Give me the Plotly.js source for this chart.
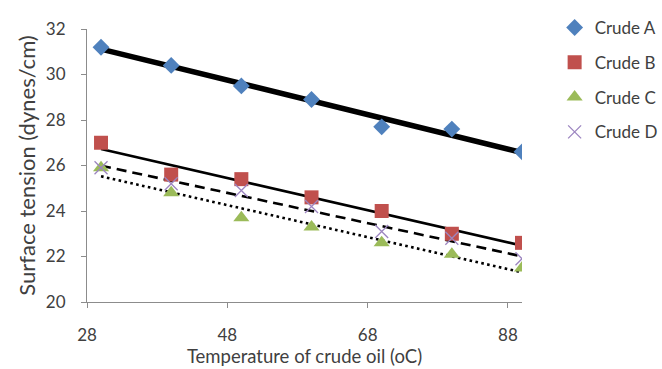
<!DOCTYPE html>
<html>
<head>
<meta charset="utf-8">
<script src="https://cdn.plot.ly/plotly-3.0.1.min.js"></script>
<style>html,body{margin:0;padding:0;background:#fff;}#chart{width:662px;height:369px;}</style>
</head>
<body>
<div id="chart"></div>
<script>
const temperature = [30, 40, 50, 60, 70, 80, 90];
const crudeA = [31.2, 30.4, 29.5, 28.9, 27.7, 27.6, 26.6];
const crudeB = [27.0, 25.6, 25.4, 24.6, 24.0, 23.0, 22.6];
const crudeC = [25.9, 24.8, 23.7, 23.3, 22.6, 22.1, 21.5];
const crudeD = [25.9, 25.2, 24.9, 24.2, 23.1, 22.8, 21.9];
const seriesNames = ["Crude A", "Crude B", "Crude C", "Crude D"];
const xTicks = [28, 48, 68, 88];
const yTicks = [20, 22, 24, 26, 28, 30, 32];

function fit(x, y) {
  const n = x.length;
  const mx = x.reduce((a, b) => a + b, 0) / n;
  const my = y.reduce((a, b) => a + b, 0) / n;
  let sxy = 0, sxx = 0;
  for (let i = 0; i < n; i++) { sxy += (x[i] - mx) * (y[i] - my); sxx += (x[i] - mx) ** 2; }
  const m = sxy / sxx, b = my - m * mx;
  const xs = [Math.min(...x), Math.max(...x)];
  return { x: xs, y: xs.map(v => m * v + b) };
}

const all = [crudeA, crudeB, crudeC, crudeD];
const colors = ["#4F81BD", "#C0504D", "#9BBB59", "#9C85C0"];
const symbols = ["diamond", "square", "triangle-up", "x-thin"];
const sizes = [13, 14, 14, 13];
const lineStyles = [
  { width: 5.5, dash: "solid" },
  { width: 2.6, dash: "solid" },
  { width: 2.6, dash: "2.6px,3.4px" },
  { width: 2.6, dash: "10px,6px" }
];

const traces = [];
all.forEach((ys, i) => {
  const f = fit(temperature, ys);
  traces.push({
    x: f.x, y: f.y, mode: "lines", type: "scatter",
    line: { color: "#000", width: lineStyles[i].width, dash: lineStyles[i].dash },
    showlegend: false, hoverinfo: "skip"
  });
});
all.forEach((ys, i) => {
  traces.push({
    x: temperature, y: ys, mode: "markers", type: "scatter", name: seriesNames[i],
    legendgroup: "g" + i,
    marker: { symbol: symbols[i], size: sizes[i], color: colors[i],
      line: { color: colors[i], width: symbols[i] === "x-thin" ? 1.3 : 0 } }
  });
});

const layout = {
  width: 662, height: 369,
  margin: { l: 87, r: 140, t: 29, b: 67, autoexpand: false },
  paper_bgcolor: "#fff", plot_bgcolor: "#fff",
  font: { family: "Lato, 'Open Sans', sans-serif", color: "#404040", size: 17 },
  showlegend: true,
  legend: { x: 1.075, xanchor: "left", y: 1.07, yanchor: "top", tracegroupgap: 9.7,
    font: { size: 17, color: "#404040" }, bgcolor: "rgba(0,0,0,0)" },
  xaxis: {
    range: [28, 90], tickvals: xTicks, ticktext: xTicks.map(String),
    showgrid: false, zeroline: false, showline: true, linecolor: "#8c8c8c", linewidth: 1,
    ticks: "outside", ticklen: 5, tickcolor: "#8c8c8c", ticklabelstandoff: 13,
    tickfont: { size: 17, color: "#404040" },
    title: { text: "Temperature of crude oil (oC)", font: { size: 18.5, color: "#404040" }, standoff: 4 }
  },
  yaxis: {
    range: [20, 32], tickvals: yTicks, ticktext: yTicks.map(String),
    showgrid: false, zeroline: false, showline: true, linecolor: "#8c8c8c", linewidth: 1,
    ticks: "outside", ticklen: 5, tickcolor: "#8c8c8c", ticklabelstandoff: 12,
    tickfont: { size: 17, color: "#404040" },
    title: { text: "Surface tension (dynes/cm)", font: { size: 22, color: "#404040" }, standoff: 4 }
  }
};

Plotly.newPlot("chart", traces, layout, { staticPlot: true, displayModeBar: false });
</script>
</body>
</html>
